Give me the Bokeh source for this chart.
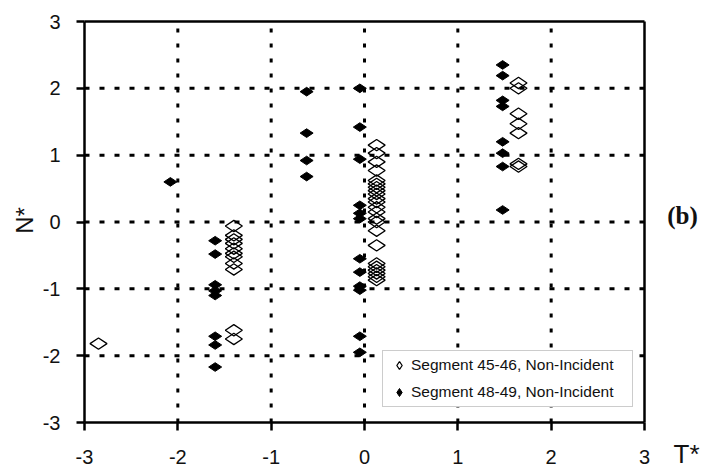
import numpy as np
from bokeh.plotting import figure
from bokeh.models import (Range1d, FixedTicker, Legend, LegendItem, Label,
                          ColumnDataSource, LinearAxis)
from bokeh.embed import file_html
from bokeh.resources import INLINE

# ---- data ----
seg45_T = ([-2.85]
           + [-1.40] * 11
           + [0.13] * 23
           + [1.65] * 7)
seg45_N = ([-1.82]
           + [-0.06, -0.20, -0.26, -0.32, -0.40, -0.47, -0.52, -0.62, -0.71, -1.62, -1.75]
           + [1.15, 1.03, 0.90, 0.77, 0.62, 0.57, 0.52, 0.47, 0.42, 0.35, 0.30, 0.22,
              0.15, 0.05, 0.00, -0.13, -0.35, -0.62, -0.67, -0.72, -0.77, -0.82, -0.87]
           + [2.08, 2.00, 1.62, 1.47, 1.33, 0.87, 0.83])

seg48_T = ([-2.08]
           + [-1.60] * 8
           + [-0.62] * 4
           + [-0.05] * 12
           + [1.48] * 8)
seg48_N = ([0.60]
           + [-0.28, -0.48, -0.94, -1.03, -1.10, -1.71, -1.84, -2.17]
           + [1.95, 1.33, 0.92, 0.68]
           + [2.00, 1.42, 0.94, 0.25, 0.13, 0.05, -0.55, -0.75, -0.96, -1.02, -1.71, -1.95]
           + [2.35, 2.19, 1.82, 1.73, 1.20, 1.03, 0.83, 0.18])

ticks = [-3, -2, -1, 0, 1, 2, 3]
tick_labels = ["-3", "-2", "-1", "0", "1", "2", "3"]
series_names = ["Segment 45-46, Non-Incident", "Segment 48-49, Non-Incident"]
x_title = "T*"
y_title = "N*"
panel_tag = "(b)"

FONT = "Liberation Sans"
INK = "#111111"

# ---- layout geometry (pixels) ----
W, H = 704, 476
FL, FR, FT, FB = 84, 644, 21, 422          # plot box edges on the page
lo, hi = ticks[0], ticks[-1]
xs = (FR - FL) / (hi - lo)
ys = (FB - FT) / (hi - lo)
x_range = Range1d(lo - FL / xs, hi + (W - FR) / xs)
y_range = Range1d(lo - (H - FB) / ys, hi + FT / ys)

p = figure(width=W, height=H, output_backend="svg", toolbar_location=None,
           x_range=x_range, y_range=y_range,
           x_axis_location=None, y_axis_location=None,
           min_border=0, min_border_left=0, min_border_right=0,
           min_border_top=0, min_border_bottom=0,
           background_fill_color="white", border_fill_color="white")
p.outline_line_color = None
p.grid.visible = False

overrides = {t: s for t, s in zip(ticks, tick_labels)}


def style_axis(ax):
    ax.axis_line_color = "black"
    ax.axis_line_width = 2.5
    ax.major_tick_line_color = "black"
    ax.major_tick_line_width = 2.5
    ax.major_tick_out = 8
    ax.major_tick_in = 0
    ax.minor_tick_line_color = None
    ax.major_label_text_font = FONT
    ax.major_label_text_font_size = "20px"
    ax.major_label_text_color = INK
    ax.bounds = (lo, hi)


# dotted grid limited to the plot box (interior tick positions)
inner = ticks[1:-1]
n_in = len(inner)
p.segment(x0=inner, x1=inner, y0=[lo] * n_in, y1=[hi] * n_in,
          line_color="black", line_width=3, line_dash="4 11", level="underlay")
p.segment(x0=[lo] * n_in, x1=[hi] * n_in, y0=inner, y1=inner,
          line_color="black", line_width=3, line_dash="5 10", level="underlay")

xaxis = LinearAxis(fixed_location=lo, ticker=FixedTicker(ticks=ticks),
                   major_label_overrides=overrides, major_label_standoff=19)
style_axis(xaxis)
p.add_layout(xaxis, "below")

yaxis = LinearAxis(fixed_location=lo, ticker=FixedTicker(ticks=ticks),
                   major_label_overrides=overrides, major_label_standoff=16)
style_axis(yaxis)
p.add_layout(yaxis, "left")

top_axis = LinearAxis(fixed_location=hi, ticker=FixedTicker(ticks=[]))
style_axis(top_axis)
p.add_layout(top_axis, "above")

right_axis = LinearAxis(fixed_location=hi, ticker=FixedTicker(ticks=[]))
style_axis(right_axis)
p.add_layout(right_axis, "right")

src45 = ColumnDataSource(dict(x=seg45_T, y=seg45_N))
src48 = ColumnDataSource(dict(x=seg48_T, y=seg48_N))

r48 = p.scatter("x", "y", source=src48, marker="diamond", size=13, angle=np.pi / 2,
                fill_color="black", line_color="black", line_width=1)
r45 = p.scatter("x", "y", source=src45, marker="diamond", size=17, angle=np.pi / 2,
                fill_color=None, line_color="black", line_width=1.3)

legend = Legend(items=[LegendItem(label=series_names[0], renderers=[r45]),
                       LegendItem(label=series_names[1], renderers=[r48])],
                location=(382, H - 407))
legend.label_text_font = FONT
legend.label_text_font_size = "15.5px"
legend.label_text_color = INK
legend.border_line_color = "#9a9a9a"
legend.border_line_width = 1
legend.background_fill_color = "white"
legend.background_fill_alpha = 1
legend.padding = 4
legend.spacing = 7
legend.glyph_width = 24
legend.glyph_height = 20
legend.label_height = 20
legend.label_standoff = 0
legend.label_width = 217
legend.margin = 0
p.add_layout(legend)

p.add_layout(Label(x=24, y=H - 220, x_units="screen", y_units="screen",
                   text=y_title, angle=np.pi / 2,
                   text_align="center", text_baseline="middle",
                   text_font=FONT, text_font_size="24px", text_color=INK))
p.add_layout(Label(x=686, y=H - 453, x_units="screen", y_units="screen",
                   text=x_title,
                   text_align="center", text_baseline="middle",
                   text_font=FONT, text_font_size="26px", text_color=INK))
p.add_layout(Label(x=682, y=H - 215, x_units="screen", y_units="screen",
                   text=panel_tag,
                   text_align="center", text_baseline="middle",
                   text_font="Liberation Serif", text_font_style="bold",
                   text_font_size="25px", text_color=INK))

open("out.html", "w").write(file_html(p, INLINE))
